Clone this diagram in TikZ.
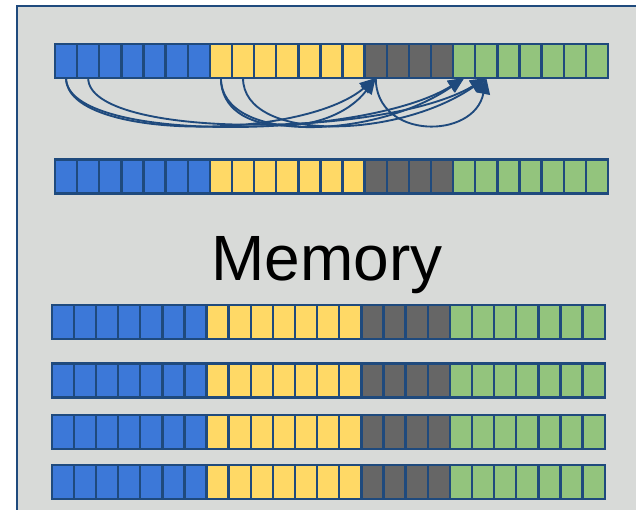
\documentclass[tikz,border=0pt]{standalone}
\usepackage{fontspec}
\setmainfont{Liberation Sans}
\usetikzlibrary{arrows.meta,positioning}

\definecolor{memblue}{HTML}{3C78D8}
\definecolor{memyellow}{HTML}{FFD966}
\definecolor{memgray}{HTML}{666666}
\definecolor{memgreen}{HTML}{93C47D}
\definecolor{memline}{HTML}{1F4A7D}
\definecolor{memback}{HTML}{D8DAD8}

\tikzset{
	cell/.style={draw=memline, line width=1.8pt, minimum width=16.59pt, minimum height=25.5pt, inner sep=0pt, outer sep=0pt},
	dep/.style={draw=memline, line width=1.4pt, -{Triangle[length=12pt,width=10pt]}},
}

% one row of 25 cells: name, left x, top y
\newcommand{\memrow}[3]{%
	\foreach \col/\n/\off in {memblue/7/0,memyellow/7/7,memgray/4/14,memgreen/7/18}{
		\foreach \k in {1,...,\n}{
			\pgfmathtruncatemacro{\i}{\off+\k}
			\node[cell, fill=\col, anchor=north west] (#1-\i) at ({#2+(\i-1)*22.12},#3) {};
		}
	}%
}

\begin{document}
\begin{tikzpicture}[x=0.75pt, y=-0.75pt]
	\useasboundingbox (0,0) rectangle (636,510);
	\clip (0,0) rectangle (636,510);
	\draw[draw=memline, fill=memback, line width=1.5pt] (17,6) rectangle (650,530);
	
	\memrow{m1}{55}{44}
	\memrow{m2}{55}{159.5}
	\memrow{m3}{51.7}{305}
	\memrow{m4}{51.7}{363.5}
	\memrow{m5}{51.7}{415}
	\memrow{m6}{51.7}{465}
	
	\node[anchor=base, font=\fontsize{48}{58}\selectfont] (mem) at (327,280) {Memory};
	
	% dependencies in the first row
	\draw[dep] (m1-1.south) .. controls +(0,63) and +(-74,63) .. (m1-15.south);
	\draw[dep] (m1-1.south) .. controls +(0,66) and +(-100,62) .. (m1-19.south);
	\draw[dep] (m1-2.south) .. controls +(0,62) and +(-100,60) .. (m1-20.south);
	\draw[dep] (m1-8.south) .. controls +(0,62) and +(-45,60) .. (m1-15.south);
	\draw[dep] (m1-8.south) .. controls +(0,66) and +(-90,62) .. (m1-19.south);
	\draw[dep] (m1-9.south) .. controls +(0,64) and +(-90,62) .. (m1-20.south);
	\draw[dep] (m1-15.south) .. controls +(0,62) and +(-12,62) .. (m1-20.south);
\end{tikzpicture}
\end{document}
